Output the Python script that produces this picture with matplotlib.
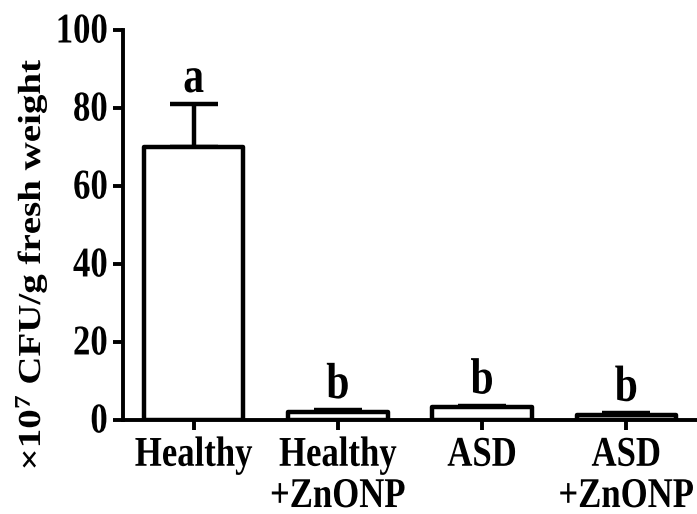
import matplotlib
matplotlib.use("Agg")
import matplotlib.pyplot as plt
from matplotlib.patheffects import AbstractPathEffect
from matplotlib.transforms import Affine2D
import numpy as np

categories = ["Healthy", "Healthy\n+ZnONP", "ASD", "ASD\n+ZnONP"]
values = [70.0, 2.0, 3.3, 1.3]
errors = [11.0, 0.5, 0.4, 0.5]
letters = ["a", "b", "b", "b"]
yticks = [0, 20, 40, 60, 80, 100]

plt.rcParams['font.family'] = ['Liberation Serif', 'DejaVu Serif']
plt.rcParams['font.weight'] = 'bold'
plt.rcParams['mathtext.fontset'] = 'custom'
plt.rcParams['mathtext.rm'] = 'Liberation Serif:bold'
plt.rcParams['mathtext.bf'] = 'Liberation Serif:bold'
plt.rcParams['mathtext.it'] = 'Liberation Serif:bold'


class VStretch(AbstractPathEffect):
    """Stretch glyphs vertically (display y) about each line's origin."""
    def __init__(self, sy):
        super().__init__()
        self.sy = sy

    def draw_path(self, renderer, gc, tpath, affine, rgbFace=None):
        cy = affine.get_matrix()[1, 2]
        t = affine + Affine2D().translate(0, -cy).scale(1, self.sy).translate(0, cy)
        renderer.draw_path(gc, tpath, t, rgbFace)


SY = 1.22
stretch = [VStretch(SY)]

fig = plt.figure(figsize=(6.97, 5.14), dpi=100)
ax = fig.add_axes([0.1765, 0.183, 0.8235, 0.7586])

x = np.arange(len(categories))
lw = 3.2
bars = ax.bar(x, values, width=0.69, color="white", edgecolor="black",
              linewidth=lw, zorder=2)
for b in bars:
    b.set_joinstyle("round")

ax.errorbar(x, values, yerr=[np.zeros(len(values)), errors], fmt="none",
            ecolor="black", elinewidth=lw, capsize=17, capthick=lw, zorder=1)

for xi, v, e, t in zip(x, values, errors, letters):
    ax.text(xi, v + e + 3.1, t, ha="center", va="baseline", fontsize=30,
            fontweight="bold", path_effects=stretch)

ax.set_xlim(-0.49, 3.49)
ax.set_ylim(0, 100)
ax.set_yticks(yticks)
ax.set_xticks(x)
xl = ax.set_xticklabels(categories, fontsize=25, fontweight="bold", linespacing=1.33)
yl = ax.set_yticklabels([str(t) for t in yticks], fontsize=25, fontweight="bold")
for t in list(xl) + list(yl):
    t.set_path_effects(stretch)
lab = ax.set_ylabel("×10$^{7}$ CFU/g fresh weight", fontsize=23, fontweight="bold")
lab.set_path_effects(stretch)
ax.yaxis.set_label_coords(-0.129, 0.305)

for s in ["top", "right"]:
    ax.spines[s].set_visible(False)
for s in ["left", "bottom"]:
    ax.spines[s].set_linewidth(2.8)
ax.tick_params(axis="both", direction="out", length=7, width=2.8, pad=4)
ax.tick_params(axis="x", pad=8)

fig.savefig("out.png", dpi=100)
